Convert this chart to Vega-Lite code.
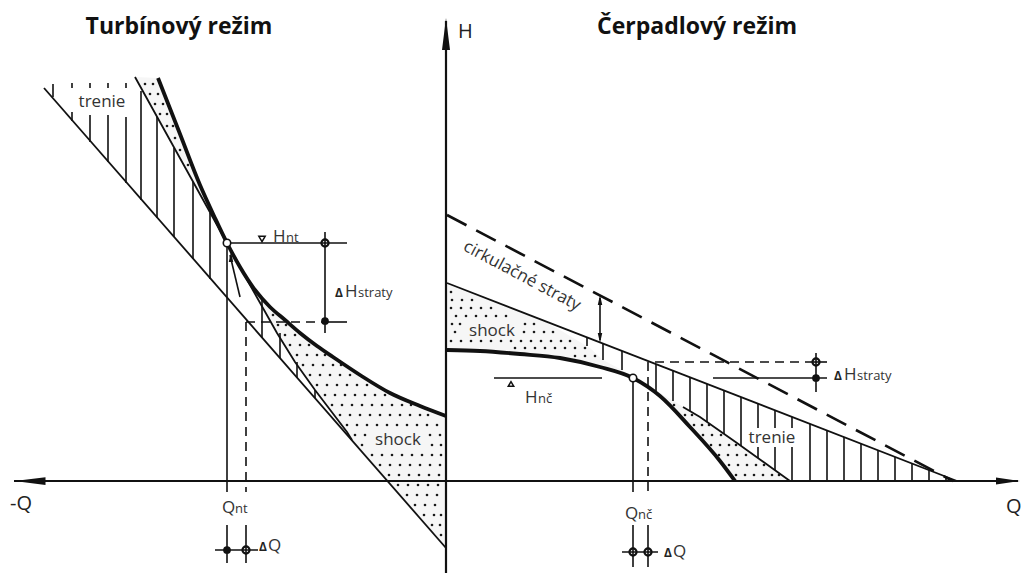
{
  "$schema": "https://vega.github.io/schema/vega-lite/v6.json",
  "width": 1023,
  "height": 573,
  "autosize": "none",
  "padding": 0,
  "background": "white",
  "config": {"view": {"stroke": null}},
  "datasets": {
    "poly": [
      {"id": "sL", "i": 0, "q": -288, "h": 403}, {"id": "sL", "i": 1, "q": -266, "h": 347}, {"id": "sL", "i": 2, "q": -246, "h": 296},
      {"id": "sL", "i": 3, "q": -231, "h": 263}, {"id": "sL", "i": 4, "q": -219, "h": 238}, {"id": "sL", "i": 5, "q": -206, "h": 214},
      {"id": "sL", "i": 6, "q": -191, "h": 191}, {"id": "sL", "i": 7, "q": -176, "h": 174}, {"id": "sL", "i": 8, "q": -161, "h": 161},
      {"id": "sL", "i": 9, "q": -146, "h": 148}, {"id": "sL", "i": 10, "q": -129, "h": 135}, {"id": "sL", "i": 11, "q": -113, "h": 124},
      {"id": "sL", "i": 12, "q": -86, "h": 106}, {"id": "sL", "i": 13, "q": -56, "h": 88}, {"id": "sL", "i": 14, "q": -26, "h": 75},
      {"id": "sL", "i": 15, "q": 0, "h": 65}, {"id": "sL", "i": 16, "q": 0, "h": -67}, {"id": "sL", "i": 17, "q": -94, "h": 41},
      {"id": "sL", "i": 18, "q": -99, "h": 49}, {"id": "sL", "i": 19, "q": -131, "h": 91}, {"id": "sL", "i": 20, "q": -151, "h": 119},
      {"id": "sL", "i": 21, "q": -169, "h": 148}, {"id": "sL", "i": 22, "q": -196, "h": 196}, {"id": "sL", "i": 23, "q": -219, "h": 238},
      {"id": "sL", "i": 24, "q": -311, "h": 404},
      {"id": "sR1", "i": 0, "q": 0, "h": 198}, {"id": "sR1", "i": 1, "q": 94, "h": 162}, {"id": "sR1", "i": 2, "q": 114, "h": 151},
      {"id": "sR1", "i": 3, "q": 144, "h": 133}, {"id": "sR1", "i": 4, "q": 157, "h": 121}, {"id": "sR1", "i": 5, "q": 176, "h": 111},
      {"id": "sR1", "i": 6, "q": 187, "h": 104}, {"id": "sR1", "i": 7, "q": 154, "h": 114}, {"id": "sR1", "i": 8, "q": 114, "h": 123},
      {"id": "sR1", "i": 9, "q": 74, "h": 127}, {"id": "sR1", "i": 10, "q": 34, "h": 130}, {"id": "sR1", "i": 11, "q": 0, "h": 131},
      {"id": "sR2", "i": 0, "q": 187, "h": 104}, {"id": "sR2", "i": 1, "q": 214, "h": 88}, {"id": "sR2", "i": 2, "q": 254, "h": 64},
      {"id": "sR2", "i": 3, "q": 291, "h": 38}, {"id": "sR2", "i": 4, "q": 344, "h": 0}, {"id": "sR2", "i": 5, "q": 289, "h": 0},
      {"id": "sR2", "i": 6, "q": 274, "h": 20}, {"id": "sR2", "i": 7, "q": 244, "h": 54}, {"id": "sR2", "i": 8, "q": 214, "h": 85},
      {"id": "sR2", "i": 9, "q": 187, "h": 103}
    ],
    "stipple": [
      {"q": -301, "h": 397}, {"q": -293, "h": 397}, {"q": -296, "h": 387}, {"q": -288, "h": 387}, {"q": -291, "h": 377}, {"q": -283, "h": 377},
      {"q": -286, "h": 367}, {"q": -279, "h": 367}, {"q": -279, "h": 355}, {"q": -273, "h": 355}, {"q": -271, "h": 343}, {"q": -266, "h": 331}, {"q": -258, "h": 316},
      {"q": -173, "h": 166},
      {"q": -168, "h": 156}, {"q": -160, "h": 156},
      {"q": -161, "h": 146}, {"q": -151, "h": 146},
      {"q": -156, "h": 136}, {"q": -146, "h": 136}, {"q": -137, "h": 136},
      {"q": -149, "h": 126}, {"q": -139, "h": 126}, {"q": -129, "h": 126}, {"q": -121, "h": 126},
      {"q": -143, "h": 116}, {"q": -133, "h": 116}, {"q": -123, "h": 116}, {"q": -113, "h": 116}, {"q": -105, "h": 116},
      {"q": -136, "h": 106}, {"q": -126, "h": 106}, {"q": -116, "h": 106}, {"q": -106, "h": 106}, {"q": -96, "h": 106},
      {"q": -129, "h": 96}, {"q": -119, "h": 96}, {"q": -109, "h": 96}, {"q": -99, "h": 96}, {"q": -89, "h": 96}, {"q": -79, "h": 96},
      {"q": -121, "h": 86}, {"q": -111, "h": 86}, {"q": -101, "h": 86}, {"q": -91, "h": 86}, {"q": -81, "h": 86}, {"q": -71, "h": 86}, {"q": -61, "h": 86},
      {"q": -114, "h": 76}, {"q": -104, "h": 76}, {"q": -94, "h": 76}, {"q": -84, "h": 76}, {"q": -74, "h": 76}, {"q": -64, "h": 76}, {"q": -54, "h": 76}, {"q": -44, "h": 76}, {"q": -35, "h": 76},
      {"q": -106, "h": 66}, {"q": -96, "h": 66}, {"q": -86, "h": 66}, {"q": -76, "h": 66}, {"q": -66, "h": 66}, {"q": -56, "h": 66}, {"q": -46, "h": 66}, {"q": -36, "h": 66}, {"q": -26, "h": 66}, {"q": -18, "h": 66},
      {"q": -99, "h": 56}, {"q": -89, "h": 56}, {"q": -79, "h": 56}, {"q": -69, "h": 56}, {"q": -59, "h": 56}, {"q": -49, "h": 56}, {"q": -39, "h": 56}, {"q": -29, "h": 56}, {"q": -19, "h": 56}, {"q": -9, "h": 56},
      {"q": -91, "h": 46}, {"q": -81, "h": 46}, {"q": -16, "h": 46}, {"q": -6, "h": 46},
      {"q": -84, "h": 36}, {"q": -14, "h": 36}, {"q": -5, "h": 36},
      {"q": -74, "h": 26}, {"q": -64, "h": 26}, {"q": -54, "h": 26}, {"q": -44, "h": 26}, {"q": -34, "h": 26}, {"q": -24, "h": 26}, {"q": -14, "h": 26}, {"q": -5, "h": 26},
      {"q": -66, "h": 16}, {"q": -56, "h": 16}, {"q": -46, "h": 16}, {"q": -36, "h": 16}, {"q": -26, "h": 16}, {"q": -16, "h": 16}, {"q": -6, "h": 16},
      {"q": -57, "h": 6}, {"q": -47, "h": 6}, {"q": -37, "h": 6}, {"q": -27, "h": 6}, {"q": -17, "h": 6}, {"q": -7, "h": 6},
      {"q": -48, "h": -4}, {"q": -38, "h": -4}, {"q": -28, "h": -4}, {"q": -18, "h": -4}, {"q": -8, "h": -4},
      {"q": -39, "h": -14}, {"q": -29, "h": -14}, {"q": -19, "h": -14}, {"q": -9, "h": -14},
      {"q": -31, "h": -24}, {"q": -21, "h": -24}, {"q": -11, "h": -24},
      {"q": -22, "h": -34}, {"q": -12, "h": -34}, {"q": -5, "h": -34},
      {"q": -14, "h": -44}, {"q": -6, "h": -44},
      {"q": -5, "h": -54},
      {"q": 5, "h": 189},
      {"q": 6, "h": 181}, {"q": 16, "h": 181}, {"q": 26, "h": 181},
      {"q": 5, "h": 173}, {"q": 15, "h": 173}, {"q": 25, "h": 173}, {"q": 35, "h": 173}, {"q": 45, "h": 173},
      {"q": 10, "h": 165}, {"q": 20, "h": 165}, {"q": 30, "h": 165}, {"q": 40, "h": 165}, {"q": 50, "h": 165}, {"q": 60, "h": 165},
      {"q": 6, "h": 157}, {"q": 14, "h": 157}, {"q": 79, "h": 157}, {"q": 88, "h": 157},
      {"q": 9, "h": 149}, {"q": 78, "h": 149}, {"q": 88, "h": 149}, {"q": 98, "h": 149}, {"q": 107, "h": 149},
      {"q": 5, "h": 140}, {"q": 15, "h": 140}, {"q": 25, "h": 140}, {"q": 35, "h": 140}, {"q": 45, "h": 140}, {"q": 55, "h": 140}, {"q": 65, "h": 140},
      {"q": 75, "h": 140}, {"q": 85, "h": 140}, {"q": 95, "h": 140}, {"q": 105, "h": 140}, {"q": 115, "h": 140}, {"q": 124, "h": 140},
      {"q": 69, "h": 133}, {"q": 79, "h": 133}, {"q": 89, "h": 133}, {"q": 99, "h": 133}, {"q": 109, "h": 133}, {"q": 119, "h": 133}, {"q": 129, "h": 133}, {"q": 139, "h": 133},
      {"q": 129, "h": 125}, {"q": 139, "h": 125}, {"q": 149, "h": 125},
      {"q": 228, "h": 76},
      {"q": 239, "h": 66}, {"q": 246, "h": 66},
      {"q": 248, "h": 56}, {"q": 256, "h": 56}, {"q": 263, "h": 56},
      {"q": 257, "h": 46}, {"q": 266, "h": 46}, {"q": 275, "h": 46},
      {"q": 265, "h": 36}, {"q": 274, "h": 36}, {"q": 283, "h": 36}, {"q": 290, "h": 36},
      {"q": 273, "h": 26}, {"q": 282, "h": 26}, {"q": 291, "h": 26}, {"q": 300, "h": 26},
      {"q": 283, "h": 16}, {"q": 292, "h": 16}, {"q": 301, "h": 16}, {"q": 310, "h": 16}, {"q": 318, "h": 16},
      {"q": 290, "h": 6}, {"q": 299, "h": 6}, {"q": 308, "h": 6}, {"q": 317, "h": 6}, {"q": 326, "h": 6}, {"q": 333, "h": 6}
    ],
    "thick": [
      {"id": "T", "i": 0, "q": -288, "h": 403}, {"id": "T", "i": 1, "q": -266, "h": 347}, {"id": "T", "i": 2, "q": -246, "h": 296},
      {"id": "T", "i": 3, "q": -231, "h": 263}, {"id": "T", "i": 4, "q": -219, "h": 238}, {"id": "T", "i": 5, "q": -206, "h": 214},
      {"id": "T", "i": 6, "q": -191, "h": 191}, {"id": "T", "i": 7, "q": -176, "h": 174}, {"id": "T", "i": 8, "q": -161, "h": 161},
      {"id": "T", "i": 9, "q": -146, "h": 148}, {"id": "T", "i": 10, "q": -129, "h": 135}, {"id": "T", "i": 11, "q": -113, "h": 124},
      {"id": "T", "i": 12, "q": -86, "h": 106}, {"id": "T", "i": 13, "q": -56, "h": 88}, {"id": "T", "i": 14, "q": -26, "h": 75},
      {"id": "T", "i": 15, "q": 0, "h": 65},
      {"id": "P", "i": 0, "q": 1, "h": 131}, {"id": "P", "i": 1, "q": 34, "h": 130}, {"id": "P", "i": 2, "q": 74, "h": 127},
      {"id": "P", "i": 3, "q": 114, "h": 123}, {"id": "P", "i": 4, "q": 154, "h": 114}, {"id": "P", "i": 5, "q": 187, "h": 103},
      {"id": "P", "i": 6, "q": 214, "h": 85}, {"id": "P", "i": 7, "q": 244, "h": 54}, {"id": "P", "i": 8, "q": 274, "h": 20},
      {"id": "P", "i": 9, "q": 289, "h": 0}
    ],
    "thin": [
      {"id": "L1", "i": 0, "q": -402, "h": 393}, {"id": "L1", "i": 1, "q": 0, "h": -67},
      {"id": "I1", "i": 0, "q": -311, "h": 404}, {"id": "I1", "i": 1, "q": -219, "h": 238}, {"id": "I1", "i": 2, "q": -196, "h": 196},
      {"id": "I1", "i": 3, "q": -169, "h": 148}, {"id": "I1", "i": 4, "q": -151, "h": 119}, {"id": "I1", "i": 5, "q": -131, "h": 91},
      {"id": "I1", "i": 6, "q": -99, "h": 49}, {"id": "I1", "i": 7, "q": -94, "h": 41},
      {"id": "S", "i": 0, "q": 1, "h": 198}, {"id": "S", "i": 1, "q": 511, "h": 0},
      {"id": "I2", "i": 0, "q": 237, "h": 74}, {"id": "I2", "i": 1, "q": 254, "h": 64}, {"id": "I2", "i": 2, "q": 291, "h": 38},
      {"id": "I2", "i": 3, "q": 344, "h": 0}
    ],
    "dash": [
      {"id": "d1", "i": 0, "q": -200, "h": 159}, {"id": "d1", "i": 1, "q": -200, "h": -11},
      {"id": "d2", "i": 0, "q": -200, "h": 159}, {"id": "d2", "i": 1, "q": -121, "h": 159},
      {"id": "d3", "i": 0, "q": 202, "h": 119}, {"id": "d3", "i": 1, "q": 202, "h": -11},
      {"id": "d4", "i": 0, "q": 209, "h": 119}, {"id": "d4", "i": 1, "q": 364, "h": 119}
    ],
    "circ": [
      {"id": "D", "i": 0, "q": 1, "h": 266}, {"id": "D", "i": 1, "q": 507, "h": 0}
    ],
    "segs": [
      {"q": -393, "h": 397, "q2": -393, "h2": 384},
      {"q": -374, "h": 398, "q2": -374, "h2": 393}, {"q": -374, "h": 369, "q2": -374, "h2": 360},
      {"q": -356, "h": 398, "q2": -356, "h2": 393}, {"q": -356, "h": 366, "q2": -356, "h2": 339},
      {"q": -338, "h": 398, "q2": -338, "h2": 393}, {"q": -338, "h": 366, "q2": -338, "h2": 319},
      {"q": -320, "h": 398, "q2": -320, "h2": 393}, {"q": -320, "h": 364, "q2": -320, "h2": 298},
      {"q": -305, "h": 390, "q2": -305, "h2": 281},
      {"q": -289, "h": 364, "q2": -289, "h2": 263},
      {"q": -272, "h": 333, "q2": -272, "h2": 244},
      {"q": -253, "h": 299, "q2": -253, "h2": 222},
      {"q": -236, "h": 268, "q2": -236, "h2": 202},
      {"q": -184, "h": 181, "q2": -184, "h2": 143},
      {"q": -166, "h": 148, "q2": -166, "h2": 123},
      {"q": -149, "h": 119, "q2": -149, "h2": 103},
      {"q": -131, "h": 91, "q2": -131, "h2": 83},
      {"q": 141, "h": 144, "q2": 141, "h2": 135},
      {"q": 157, "h": 137, "q2": 157, "h2": 121},
      {"q": 176, "h": 130, "q2": 176, "h2": 111},
      {"q": 210, "h": 117, "q2": 210, "h2": 90},
      {"q": 227, "h": 110, "q2": 227, "h2": 80},
      {"q": 244, "h": 104, "q2": 244, "h2": 70},
      {"q": 261, "h": 97, "q2": 261, "h2": 59},
      {"q": 278, "h": 90, "q2": 278, "h2": 47},
      {"q": 295, "h": 84, "q2": 295, "h2": 35},
      {"q": 312, "h": 77, "q2": 312, "h2": 53}, {"q": 312, "h": 34, "q2": 312, "h2": 23},
      {"q": 329, "h": 71, "q2": 329, "h2": 53}, {"q": 329, "h": 34, "q2": 329, "h2": 11},
      {"q": 346, "h": 64, "q2": 346, "h2": 53}, {"q": 346, "h": 34, "q2": 346, "h2": 0},
      {"q": 364, "h": 57, "q2": 364, "h2": 0},
      {"q": 381, "h": 50, "q2": 381, "h2": 0},
      {"q": 398, "h": 44, "q2": 398, "h2": 0},
      {"q": 415, "h": 37, "q2": 415, "h2": 0},
      {"q": 432, "h": 31, "q2": 432, "h2": 0},
      {"q": 449, "h": 24, "q2": 449, "h2": 0},
      {"q": 466, "h": 18, "q2": 466, "h2": 0},
      {"q": 483, "h": 11, "q2": 483, "h2": 0},
      {"q": 500, "h": 4, "q2": 500, "h2": 0},
      {"q": -219, "h": 238, "q2": -219, "h2": -11},
      {"q": -219, "h": -44, "q2": -219, "h2": -82},
      {"q": -200, "h": -44, "q2": -200, "h2": -82},
      {"q": -219, "h": 238, "q2": -99, "h2": 238},
      {"q": -121, "h": 249, "q2": -121, "h2": 148},
      {"q": -121, "h": 159, "q2": -99, "h2": 159},
      {"q": -231, "h": -69, "q2": -188, "h2": -69},
      {"q": -206, "h": 184, "q2": -216, "h2": 226},
      {"q": 187, "h": 103, "q2": 187, "h2": -11},
      {"q": 187, "h": -44, "q2": 187, "h2": -86},
      {"q": 202, "h": -44, "q2": 202, "h2": -86},
      {"q": 48, "h": 103, "q2": 156, "h2": 103},
      {"q": 370, "h": 128, "q2": 370, "h2": 89},
      {"q": 267, "h": 103, "q2": 381, "h2": 103},
      {"q": 364, "h": 119, "q2": 381, "h2": 119},
      {"q": 176, "h": -71, "q2": 212, "h2": -71},
      {"q": 154, "h": 183, "q2": 154, "h2": 141}
    ],
    "axes": [
      {"q": -432, "h": 0, "q2": 572, "h2": 0},
      {"q": 0, "h": -92, "q2": 0, "h2": 460}
    ],
    "arrUp": [{"q": 0, "h": 447}],
    "arrLeft": [{"q": -416, "h": 0}],
    "arrRight": [{"q": 562, "h": 0}],
    "smallUp": [{"q": 154, "h": 181}, {"q": -215, "h": 224}],
    "smallDown": [{"q": 154, "h": 143}],
    "openPts": [{"q": -219, "h": 238}, {"q": 187, "h": 103}],
    "ringPts": [{"q": -121, "h": 238}, {"q": -200, "h": -69}, {"q": 370, "h": 119}, {"q": 187, "h": -71}, {"q": 202, "h": -71}],
    "dotPts": [{"q": -121, "h": 160}, {"q": -219, "h": -69}, {"q": 370, "h": 103}],
    "triDown": [{"q": -184, "h": 242}],
    "triUp": [{"q": 65, "h": 97}],
    "titles": [
      {"q": -267, "h": 447, "t": "Turbínový režim"},
      {"q": 251, "h": 447, "t": "Čerpadlový režim"}
    ],
    "big": [
      {"q": 12, "h": 443, "t": "H"},
      {"q": -436, "h": -29, "t": "-Q"},
      {"q": 560, "h": -32, "t": "Q"}
    ],
    "lab": [
      {"q": -344, "h": 374, "t": "trenie"},
      {"q": -48, "h": 36, "t": "shock"},
      {"q": 46, "h": 145, "t": "shock"},
      {"q": 326, "h": 38, "t": "trenie"}
    ],
    "rot": [{"q": 76, "h": 205, "t": "cirkulačné straty"}],
    "main": [
      {"q": -173, "h": 239, "t": "H"},
      {"q": -101, "h": 184, "t": "H"},
      {"q": -224, "h": -32, "t": "Q"},
      {"q": -178, "h": -70, "t": "Q"},
      {"q": 79, "h": 78, "t": "H"},
      {"q": 179, "h": -38, "t": "Q"},
      {"q": 227, "h": -76, "t": "Q"},
      {"q": 398, "h": 101, "t": "H"}
    ],
    "sub": [
      {"q": -160, "h": 239, "t": "nt"},
      {"q": -88, "h": 184, "t": "straty"},
      {"q": -211, "h": -32, "t": "nt"},
      {"q": 92, "h": 78, "t": "nč"},
      {"q": 192, "h": -38, "t": "nč"},
      {"q": 411, "h": 101, "t": "straty"}
    ],
    "delta": [
      {"q": -111, "h": 184, "t": "Δ"},
      {"q": -187, "h": -70, "t": "Δ"},
      {"q": 388, "h": 101, "t": "Δ"},
      {"q": 218, "h": -76, "t": "Δ"}
    ]
  },
  "encoding": {
    "x": {"field": "q", "type": "quantitative", "scale": {"domain": [-446, 577], "nice": false, "zero": false}, "axis": null},
    "y": {"field": "h", "type": "quantitative", "scale": {"domain": [-92, 481], "nice": false, "zero": false}, "axis": null}
  },
  "layer": [
    {"data": {"name": "poly"}, "mark": {"type": "line", "fill": "#f6f6f6", "strokeWidth": 0, "interpolate": "linear"},
     "encoding": {"detail": {"field": "id"}, "order": {"field": "i", "type": "quantitative"}}},
    {"data": {"name": "stipple"}, "mark": {"type": "point", "shape": "circle", "filled": true, "color": "#1a1a1a", "opacity": 1, "size": 7}},
    {"data": {"name": "thin"}, "mark": {"type": "line", "color": "#111", "strokeWidth": 1.8},
     "encoding": {"detail": {"field": "id"}, "order": {"field": "i", "type": "quantitative"}}},
    {"data": {"name": "dash"}, "mark": {"type": "line", "color": "#111", "strokeWidth": 1.6, "strokeDash": [9, 6]},
     "encoding": {"detail": {"field": "id"}, "order": {"field": "i", "type": "quantitative"}}},
    {"data": {"name": "circ"}, "mark": {"type": "line", "color": "#111", "strokeWidth": 2.6, "strokeDash": [22, 11]},
     "encoding": {"detail": {"field": "id"}, "order": {"field": "i", "type": "quantitative"}}},
    {"data": {"name": "thick"}, "mark": {"type": "line", "color": "#111", "strokeWidth": 3.8, "interpolate": "monotone"},
     "encoding": {"detail": {"field": "id"}, "order": {"field": "i", "type": "quantitative"}}},
    {"data": {"name": "segs"}, "mark": {"type": "rule", "color": "#111", "strokeWidth": 1.6},
     "encoding": {"x2": {"field": "q2"}, "y2": {"field": "h2"}}},
    {"data": {"name": "axes"}, "mark": {"type": "rule", "color": "#111", "strokeWidth": 2.2},
     "encoding": {"x2": {"field": "q2"}, "y2": {"field": "h2"}}},
    {"data": {"name": "arrUp"}, "mark": {"type": "point", "shape": "M0,-1L0.25,1L-0.25,1Z", "filled": true, "color": "#111", "opacity": 1, "size": 1024}},
    {"data": {"name": "arrLeft"}, "mark": {"type": "point", "shape": "M-1,0L1,-0.25L1,0.25Z", "filled": true, "color": "#111", "opacity": 1, "size": 961}},
    {"data": {"name": "arrRight"}, "mark": {"type": "point", "shape": "M1,0L-1,-0.3L-1,0.3Z", "filled": true, "color": "#111", "opacity": 1, "size": 576}},
    {"data": {"name": "smallUp"}, "mark": {"type": "point", "shape": "M0,-1L0.45,1L-0.45,1Z", "filled": true, "color": "#111", "opacity": 1, "size": 100}},
    {"data": {"name": "smallDown"}, "mark": {"type": "point", "shape": "M0,1L0.45,-1L-0.45,-1Z", "filled": true, "color": "#111", "opacity": 1, "size": 100}},
    {"data": {"name": "openPts"}, "mark": {"type": "point", "shape": "circle", "filled": true, "fill": "white", "stroke": "#111", "strokeWidth": 1.6, "opacity": 1, "size": 55}},
    {"data": {"name": "ringPts"}, "mark": {"type": "point", "shape": "circle", "filled": false, "color": "#111", "strokeWidth": 2.2, "opacity": 1, "size": 50}},
    {"data": {"name": "dotPts"}, "mark": {"type": "point", "shape": "circle", "filled": true, "color": "#111", "opacity": 1, "size": 60}},
    {"data": {"name": "triDown"}, "mark": {"type": "point", "shape": "triangle-down", "filled": true, "fill": "white", "stroke": "#111", "strokeWidth": 1.5, "opacity": 1, "size": 40}},
    {"data": {"name": "triUp"}, "mark": {"type": "point", "shape": "triangle-up", "filled": true, "fill": "white", "stroke": "#111", "strokeWidth": 1.5, "opacity": 1, "size": 30}},
    {"data": {"name": "titles"}, "mark": {"type": "text", "font": "Open Sans", "fontWeight": "bold", "fontSize": 23, "align": "center", "baseline": "alphabetic", "color": "#111"},
     "encoding": {"text": {"field": "t"}}},
    {"data": {"name": "big"}, "mark": {"type": "text", "font": "Open Sans", "fontSize": 20, "align": "left", "baseline": "alphabetic", "color": "#222"},
     "encoding": {"text": {"field": "t"}}},
    {"data": {"name": "lab"}, "mark": {"type": "text", "font": "Open Sans", "fontSize": 17, "align": "center", "baseline": "alphabetic", "color": "#333"},
     "encoding": {"text": {"field": "t"}}},
    {"data": {"name": "rot"}, "mark": {"type": "text", "font": "Open Sans", "fontSize": 17, "align": "center", "baseline": "middle", "angle": 28, "color": "#333"},
     "encoding": {"text": {"field": "t"}}},
    {"data": {"name": "main"}, "mark": {"type": "text", "font": "Open Sans", "fontSize": 17, "align": "left", "baseline": "alphabetic", "color": "#333"},
     "encoding": {"text": {"field": "t"}}},
    {"data": {"name": "sub"}, "mark": {"type": "text", "font": "Open Sans", "fontSize": 13, "align": "left", "baseline": "alphabetic", "color": "#333"},
     "encoding": {"text": {"field": "t"}}},
    {"data": {"name": "delta"}, "mark": {"type": "text", "font": "Open Sans", "fontWeight": "bold", "fontSize": 12, "align": "left", "baseline": "alphabetic", "color": "#222"},
     "encoding": {"text": {"field": "t"}}}
  ]
}
